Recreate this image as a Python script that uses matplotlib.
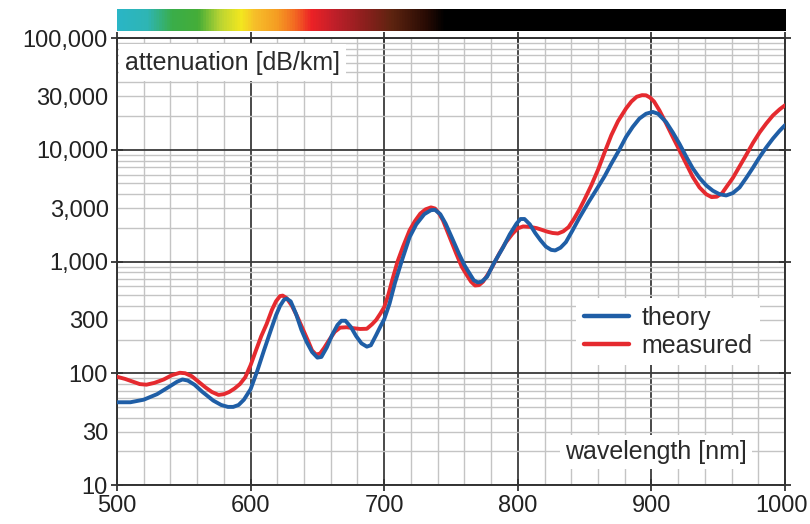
import numpy as np
import matplotlib
matplotlib.use("Agg")
import matplotlib.pyplot as plt
import matplotlib.transforms as mtransforms
from matplotlib.ticker import FixedLocator, FuncFormatter, NullFormatter
from matplotlib.colors import LinearSegmentedColormap

# ---------------- data ----------------
theory_nm = [500, 510, 520, 530, 540, 545, 549, 553, 558, 564, 572, 578, 583, 587, 591, 595,
             600, 605, 610, 615, 619, 622, 625, 627, 630, 634, 638, 642, 646, 650, 653, 657,
             661, 665, 668, 671, 675, 679, 683, 687, 690, 694, 697, 700, 704, 708, 713, 719,
             724, 730, 735, 738, 742, 746, 751, 756, 760, 764, 767, 770, 773, 777, 782, 789,
             794, 799, 802, 805, 809, 813, 817, 821, 825, 828, 832, 836, 841, 846, 853, 860,
             865, 870, 876, 881, 886, 891, 896, 901, 905, 911, 916, 921, 926, 931, 936, 941,
             946, 951, 956, 961, 966, 971, 976, 981, 986, 991, 996, 1000]
theory_db = [55, 55, 58, 65, 77, 84, 88, 86, 79, 68, 57, 52, 50, 50, 52, 58,
             72, 105, 160, 240, 330, 400, 455, 465, 440, 340, 245, 190, 155, 138, 140, 170,
             220, 270, 295, 295, 260, 215, 185, 173, 178, 220, 260, 304, 420, 640, 1000, 1650,
             2150, 2650, 2880, 2900, 2650, 2180, 1600, 1170, 930, 777, 680, 650, 660, 730, 960, 1340,
             1750, 2180, 2400, 2400, 2150, 1800, 1550, 1360, 1270, 1256, 1330, 1490, 1900, 2450, 3400, 4630,
             5800, 7500, 10000, 13000, 16000, 19000, 21000, 21800, 21000, 17700, 14300, 11300, 8700, 6800, 5600, 4800,
             4300, 4000, 3900, 4100, 4600, 5600, 6900, 8600, 10500, 12600, 14800, 16600]

measured_nm = [500, 506, 512, 517, 522, 528, 535, 541, 547, 551, 556, 561, 566, 571, 576, 580,
               584, 588, 592, 596, 600, 604, 608, 612, 616, 619, 622, 624, 627, 631, 635, 639,
               643, 646, 649, 652, 655, 659, 663, 667, 672, 677, 682, 687, 691, 694, 697, 700,
               703, 706, 710, 714, 719, 723, 727, 731, 735, 738, 741, 744, 749, 754, 758, 762,
               765, 768, 771, 774, 778, 782, 786, 791, 796, 800, 804, 809, 814, 818, 822, 826,
               830, 834, 838, 842, 846, 850, 855, 860, 865, 870, 875, 881, 885, 889, 893, 896,
               899, 902, 906, 911, 916, 921, 926, 931, 936, 941, 945, 949, 953, 957, 961, 966,
               971, 976, 981, 986, 991, 996, 1000]
measured_db = [93, 89, 84, 80, 79, 82, 88, 96, 101, 100, 94, 84, 75, 68, 64, 65,
               68, 73, 80, 92, 118, 160, 215, 276, 370, 440, 490, 495, 470, 400, 320, 250,
               195, 160, 147, 150, 168, 200, 235, 256, 258, 253, 249, 250, 275, 300, 340, 390,
               500, 680, 1000, 1350, 1900, 2300, 2680, 2930, 3050, 2980, 2700, 2330, 1650, 1170, 900, 750,
               660, 610, 615, 660, 780, 950, 1170, 1480, 1770, 1980, 2060, 2040, 1990, 1920, 1850, 1800,
               1780, 1860, 2030, 2400, 2900, 3600, 4800, 6600, 9500, 13500, 18000, 23400, 27000, 29800, 30800, 30700,
               29300, 27000, 22500, 17200, 13000, 9900, 7500, 5700, 4600, 4000, 3770, 3800, 4100, 4800, 5600, 7100,
               9000, 11500, 14300, 17200, 20300, 23000, 25000]

x_major = [500, 600, 700, 800, 900, 1000]
y_labels = [10, 30, 100, 300, 1000, 3000, 10000, 30000, 100000]

spectrum_nm = [500, 522, 540, 560, 576, 592, 602, 620, 632, 645, 662, 684, 705, 730, 745, 1000]
spectrum_col = ["#2ab6c6", "#2fb5b4", "#3aae4a", "#45ad38", "#b9d433", "#f3e71f", "#f7c02a",
                "#f59a22", "#f36a22", "#ec2226", "#c01f2a", "#8e1f1e", "#5e2410", "#2a0c04",
                "#000000", "#000000"]

# ---------------- figure ----------------
plt.rcParams['font.family'] = ['Liberation Sans', 'DejaVu Sans']
W, H = 810, 524
fig = plt.figure(figsize=(W / 100, H / 100), dpi=100)
L, R, T, B = 117, 785, 38, 485
ax = fig.add_axes([L / W, 1 - B / H, (R - L) / W, (B - T) / H])

ax.set_yscale('log')
ax.set_xlim(500, 1000)
ax.set_ylim(10, 100000)

# grid / ticks
ax.xaxis.set_major_locator(FixedLocator(x_major))
ax.xaxis.set_minor_locator(FixedLocator(list(range(500, 1001, 20))))
ax.xaxis.set_minor_formatter(NullFormatter())

decades = [10, 100, 1000, 10000, 100000]
minor_y = [d * k for d in decades[:-1] for k in range(2, 10)]
ax.yaxis.set_major_locator(FixedLocator(decades))
ax.yaxis.set_minor_locator(FixedLocator(minor_y))
fmt = lambda v, p: (f"{int(round(v)):,}" if int(round(v)) in y_labels else "")
ax.yaxis.set_major_formatter(FuncFormatter(fmt))
ax.yaxis.set_minor_formatter(FuncFormatter(fmt))

ax.grid(which='minor', color='#c4c4c4', lw=1.0, zorder=0)
ax.grid(which='major', color='#3a3a3a', lw=1.3, zorder=0.5)
ax.set_axisbelow(True)

ax.tick_params(which='major', direction='inout', length=9, width=1.3, color='#333333',
               labelsize=17, labelcolor='#222222', pad=2, top=True, right=True)
ax.tick_params(axis='y', which='minor', length=0, labelsize=17, labelcolor='#222222', pad=6)
ax.tick_params(axis='x', which='minor', length=0)
ax.tick_params(axis='x', which='major', pad=3)
ax.tick_params(axis='y', which='major', pad=2)
for s in ax.spines.values():
    s.set_color('#333333')
    s.set_linewidth(1.4)

# shift the last x label slightly left so it stays inside the figure
fig.canvas.draw()
for lab in ax.get_xticklabels():
    if lab.get_text() == '1000':
        lab.set_transform(lab.get_transform() +
                          mtransforms.ScaledTranslation(-4 / 100, 0, fig.dpi_scale_trans))

# curves
ln_t, = ax.plot(theory_nm, theory_db, color='#1f5ea6', lw=2.8, solid_joinstyle='round',
                solid_capstyle='round', zorder=4, label='theory')
ln_m, = ax.plot(measured_nm, measured_db, color='#e52a2f', lw=2.8, solid_joinstyle='round',
                solid_capstyle='round', zorder=3, label='measured')

# text boxes
ax.text(0.012, 0.945, "attenuation [dB/km]", transform=ax.transAxes, fontsize=18,
        color='#2a2a2a', va='center', ha='left', zorder=6,
        bbox=dict(boxstyle='square,pad=0.25', fc='white', ec='none'))
ax.text(0.807, 0.073, "wavelength [nm]", transform=ax.transAxes, fontsize=18,
        color='#2a2a2a', va='center', ha='center', zorder=6,
        bbox=dict(boxstyle='square,pad=0.2', fc='white', ec='none'))

leg = ax.legend(handles=[ln_t, ln_m], loc='center', bbox_to_anchor=(0.825, 0.343),
                fontsize=18, frameon=True, fancybox=False, framealpha=1.0,
                edgecolor='none', facecolor='white', handlelength=1.8,
                handletextpad=0.5, borderpad=0.3, labelspacing=0.15)
for t in leg.get_texts():
    t.set_color('#2a2a2a')
for h in leg.legend_handles:
    h.set_linewidth(3.2)
leg.set_zorder(7)

# spectrum color bar
cax = fig.add_axes([L / W, 1 - 31 / H, (R - L) / W, 22 / H])
pos = [(n - 500) / 500 for n in spectrum_nm]
cmap = LinearSegmentedColormap.from_list('spec', list(zip(pos, spectrum_col)))
grad = np.linspace(500, 1000, 1000)[None, :]
cax.imshow(grad, cmap=cmap, aspect='auto', extent=[500, 1000, 0, 1], vmin=500, vmax=1000)
cax.set_axis_off()

fig.savefig('out.png', dpi=100)
